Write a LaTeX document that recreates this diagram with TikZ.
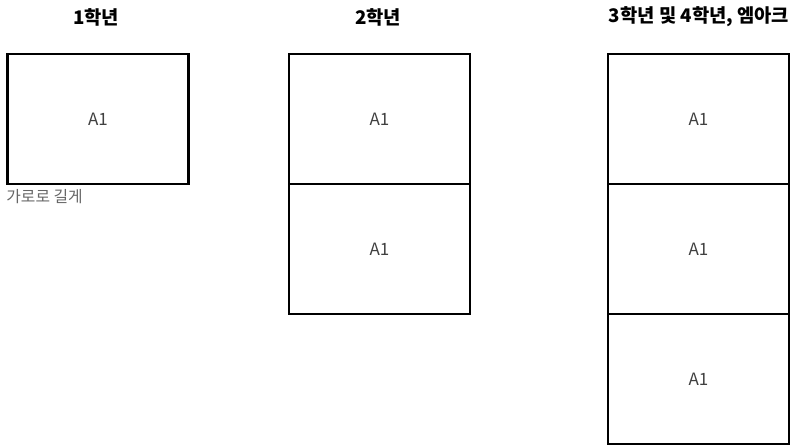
\documentclass[tikz,border=0pt]{standalone}
\usepackage{fontspec}
\setmainfont{Noto Sans CJK KR}
\usetikzlibrary{positioning}
\tikzstyle{sheet} = [draw, rectangle, line width=2.2pt, minimum width=5.43cm, minimum height=3.9cm, inner sep=0pt, text=black!75, font=\fontsize{14.5}{16}\selectfont]
\tikzstyle{grade} = [font=\bfseries\fontsize{16}{18}\selectfont]
\tikzstyle{note} = [text=black!60, font=\fontsize{13.5}{15}\selectfont, inner sep=0pt]

\begin{document}
\begin{tikzpicture}[x=0.03cm, y=-0.03cm, node distance=3.9cm]
\useasboundingbox (0,0) rectangle (798,448);

    % first year: one sheet, landscape
    \node [sheet] (one) at (98,119) {A1};
    \node [grade] (t1) at (96,17) {1학년};
    \node [note, below right=0.12cm and 0cm of one.south west] (wide) {가로로 길게};

    % second year: two sheets
    \node [sheet] (twoa) at (379.5,119) {A1};
    \node [sheet, below of=twoa] (twob) {A1};
    \node [grade] (t2) at (378,17) {2학년};

    % third and fourth year: three sheets
    \node [sheet] (threea) at (698.5,119) {A1};
    \node [sheet, below of=threea] (threeb) {A1};
    \node [sheet, below of=threeb] (threec) {A1};
    \node [grade] (t3) at (699,17) {3학년 및 4학년, 엠아크};

\end{tikzpicture}
\end{document}
